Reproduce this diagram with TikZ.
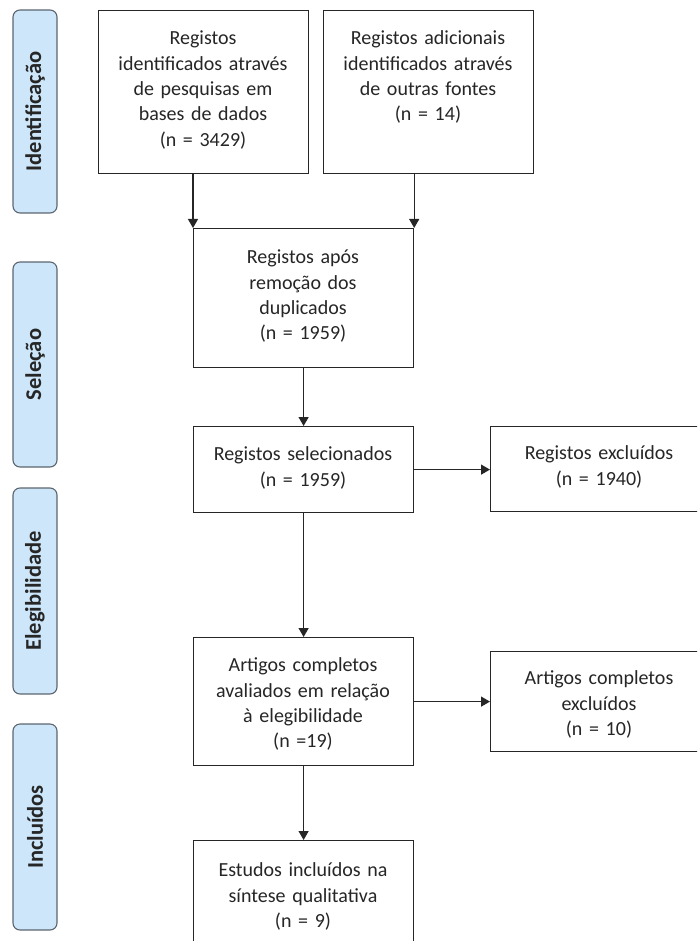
\documentclass[tikz,border=0pt]{standalone}
\usepackage{fontspec}
\setmainfont{Carlito}
\usetikzlibrary{arrows.meta}
\definecolor{phasefill}{HTML}{CDE6F9}
\definecolor{phasedraw}{HTML}{5C6670}
\definecolor{ink}{HTML}{262626}
\newcommand\boxfont{\fontsize{20}{25.3}\selectfont}
\newcommand\phasefont{\fontsize{22.5}{26}\selectfont\bfseries}
\begin{document}
\begin{tikzpicture}[x=1pt,y=-1pt,
  boxnode/.style={draw=ink,line width=1.2pt,fill=white,inner sep=0pt,anchor=north west},
  boxtext/.style={anchor=north,inner sep=0pt,text width=215pt,align=center,font=\boxfont,text=ink,
    execute at begin node=\strut},
  phase/.style={draw=phasedraw,fill=phasefill,line width=1.1pt,rounded corners=7pt,
    rotate=90,minimum height=44pt,inner sep=0pt,font=\phasefont,text=ink},
  arr/.style={draw=ink,line width=1.2pt,-{Triangle[width=10pt,length=9pt]}}]
\useasboundingbox (0,0) rectangle (697,941);
\clip (0,0) rectangle (697,941);
% phase bars
\node[phase,minimum width=203pt] (pid) at (35,111.5) {Identificação};
\node[phase,minimum width=205pt] (psel) at (35,364.5) {Seleção};
\node[phase,minimum width=206pt] (pel) at (35,591) {Elegibilidade};
\node[phase,minimum width=206pt] (pinc) at (35,827) {Incluídos};
% boxes
\node[boxnode,minimum width=210pt,minimum height=163pt] (b1) at (98,10) {};
\node[boxtext] (t1) at (203,27) {Registos\\identificados através\\de pesquisas em\\bases de dados\\(n = 3429)};
\node[boxnode,minimum width=210pt,minimum height=163pt] (b2) at (323,10) {};
\node[boxtext] (t2) at (428,27) {Registos adicionais\\identificados através\\de outras fontes\\(n = 14)};
\node[boxnode,minimum width=220pt,minimum height=139pt] (b3) at (193,228) {};
\node[boxtext] (t3) at (303,246) {Registos após\\remoção dos\\duplicados\\(n = 1959)};
\node[boxnode,minimum width=220pt,minimum height=86pt] (b4) at (193,426) {};
\node[boxtext] (t4) at (303,443) {Registos selecionados\\(n = 1959)};
\node[boxnode,minimum width=220pt,minimum height=128pt] (b5) at (193,637) {};
\node[boxtext] (t5) at (303,654) {Artigos completos\\avaliados em relação\\à elegibilidade\\(n =19)};
\node[boxnode,minimum width=220pt,minimum height=140pt] (b6) at (193,840) {};
\node[boxtext] (t6) at (303,859) {Estudos incluídos na\\síntese qualitativa\\(n = 9)};
\node[boxnode,minimum width=218pt,minimum height=85pt] (e1) at (490,426) {};
\node[boxtext] (te1) at (599,442) {Registos excluídos\\(n = 1940)};
\node[boxnode,minimum width=218pt,minimum height=100pt] (e2) at (490,651) {};
\node[boxtext] (te2) at (599,667) {Artigos completos\\excluídos\\(n = 10)};
% connectors
\draw[arr] (b1.south -| b3.north west) -- (b3.north west);
\draw[arr] (b2.south -| b3.north east) -- (b3.north east);
\draw[arr] (b3.south) -- (b4.north);
\draw[arr] (b4.east) -- (b4.east -| e1.west);
\draw[arr] (b4.south) -- (b5.north);
\draw[arr] (b5.east |- e2.west) -- (e2.west);
\draw[arr] (b5.south) -- (b6.north);
\end{tikzpicture}
\end{document}
